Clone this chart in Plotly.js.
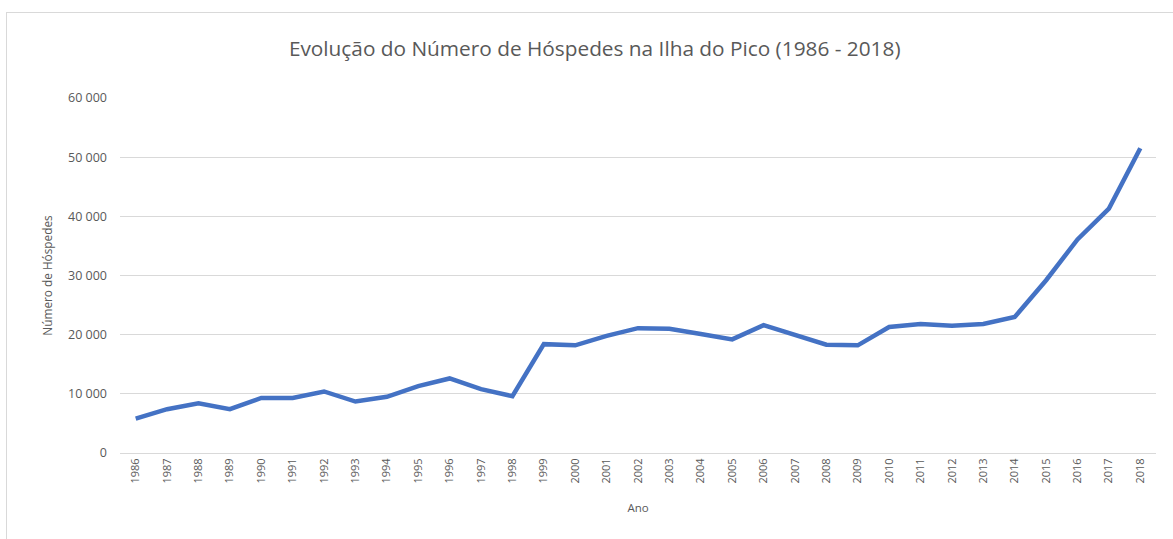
<!DOCTYPE html>
<html>
<head>
<meta charset="utf-8">
<script src="https://cdn.plot.ly/plotly-3.0.1.min.js"></script>
<style>
  html, body { margin: 0; padding: 0; background: #ffffff; overflow: hidden; }
  #chart { position: absolute; left: 0; top: 0; width: 1173px; height: 539px; }
  #frame { position: absolute; left: 6px; top: 12px; width: 1300px; height: 700px;
           border: 1px solid #d9d9d9; pointer-events: none; }
</style>
</head>
<body>
<div id="chart"></div>
<div id="frame"></div>
<script>
const years = ["1986","1987","1988","1989","1990","1991","1992","1993","1994","1995",
  "1996","1997","1998","1999","2000","2001","2002","2003","2004","2005","2006","2007",
  "2008","2009","2010","2011","2012","2013","2014","2015","2016","2017","2018"];
const hospedes = [5800, 7400, 8400, 7400, 9300, 9300, 10400, 8700, 9500, 11300,
  12600, 10800, 9600, 18400, 18200, 19800, 21100, 21000, 20100, 19200, 21600, 20000,
  18300, 18200, 21300, 21800, 21500, 21800, 23000, 29200, 36100, 41300, 51500];
const yTicks = [0, 10000, 20000, 30000, 40000, 50000, 60000];
const yTickText = ["0", "10 000", "20 000", "30 000", "40 000", "50 000", "60 000"];

const font = "'Open Sans', 'Noto Sans', sans-serif";
const grey = "#595959";

const trace = {
  x: years,
  y: hospedes,
  type: "scatter",
  mode: "lines",
  line: { color: "#4472C4", width: 4.5 },
  hoverinfo: "x+y"
};

const layout = {
  width: 1173,
  height: 539,
  paper_bgcolor: "rgba(0,0,0,0)",
  plot_bgcolor: "#ffffff",
  margin: { l: 120, r: 17, t: 98, b: 86 },
  showlegend: false,
  title: {
    text: "Evolução do Número de Hóspedes na Ilha do Pico (1986 - 2018)",
    font: { family: font, size: 20.8, color: grey },
    x: 0.507, xanchor: "center",
    y: 0.91, yanchor: "middle"
  },
  xaxis: {
    type: "category",
    range: [-0.5, years.length - 0.5],
    tickangle: -90,
    tickfont: { family: font, size: 11, color: grey },
    showgrid: false,
    showline: true,
    linecolor: "#d9d9d9",
    linewidth: 1,
    ticks: "",
    title: { text: "Ano", font: { family: font, size: 11.5, color: grey }, standoff: 21 },
    automargin: false
  },
  yaxis: {
    range: [0, 60000],
    tickvals: yTicks,
    ticktext: yTickText,
    tickfont: { family: font, size: 12.5, color: grey },
    showgrid: true,
    gridcolor: "#d9d9d9",
    gridwidth: 1,
    zeroline: false,
    showline: false,
    ticks: "",
    ticklabelstandoff: 12,
    title: { text: "Número de Hóspedes", font: { family: font, size: 11.8, color: grey }, standoff: 12 },
    automargin: false
  }
};

Plotly.newPlot("chart", [trace], layout, { displayModeBar: false, staticPlot: true });
</script>
</body>
</html>
